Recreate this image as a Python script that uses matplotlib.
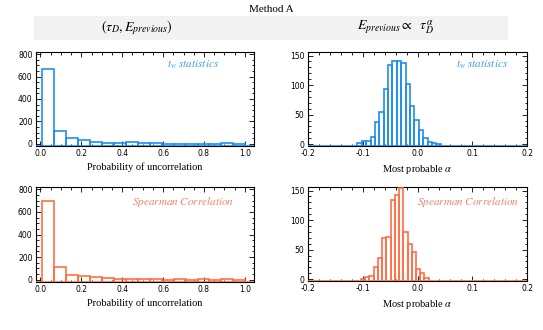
import numpy as np
import matplotlib
matplotlib.use("Agg")
import matplotlib.pyplot as plt
from matplotlib.ticker import MultipleLocator, AutoMinorLocator, FormatStrFormatter
from matplotlib.patches import Rectangle

plt.rcParams['axes.unicode_minus'] = False
plt.rcParams['mathtext.fontset'] = 'stix'

# ---------------- data ----------------
# Probability of uncorrelation histograms (left column)
prob_start = 0.008
prob_width = 0.0585
tw_prob_counts = [670, 110, 51, 33, 15, 8, 8, 15, 8, 3, 2, 2, 1, 1, 2, 6, 1]
sp_prob_counts = [700, 115, 40, 30, 22, 12, 8, 5, 5, 3, 2, 4, 2, 3, 2, 4, 1]

# Most probable alpha histograms (right column)
tw_alpha_start = -0.1097
tw_alpha_width = 0.0080
tw_alpha_counts = [2, 5, 5, 13, 38, 55, 94, 134, 141, 141, 138, 102, 64, 41, 24, 10, 4, 2, 1]
sp_alpha_start = -0.1035
sp_alpha_width = 0.00775
sp_alpha_counts = [1, 4, 6, 20, 36, 70, 72, 134, 143, 155, 80, 60, 46, 17, 10, 2]

title = "Method A"
col_titles = [r'$(\tau_D, E_{previous})$', r'$E_{previous} \propto\ \ \tau_D^{\alpha}$']
xlabels = ["Probability of uncorrelation", r"Most probable $\alpha$"]
labels = [r'$t_w\ statistics$', r'$Spearman\ Correlation$']

blue = '#1E8FEA'
orange = '#FF6E45'
blue_txt = '#3A9BE2'
orange_txt = '#F47F66'

W, H = 543, 330
fig = plt.figure(figsize=(W / 100, H / 100), dpi=100)

def frac(x0, y0, x1, y1):
    return [x0 / W, 1 - y1 / H, (x1 - x0) / W, (y1 - y0) / H]

# header
fig.patches.append(Rectangle((34 / W, 1 - 40 / H), (508 - 34) / W, (40 - 15.7) / H,
                             transform=fig.transFigure, facecolor='#f2f2f2',
                             edgecolor='none', zorder=0))
fig.text(271 / W, 1 - 10 / H, title, ha='center', va='center',
         fontsize=8, family='Liberation Serif')
fig.text(137 / W, 1 - 28 / H, col_titles[0], ha='center', va='center', fontsize=10)
fig.text(396 / W, 1 - 28 / H, col_titles[1], ha='center', va='center', fontsize=10)

panels = [
    dict(rect=frac(36, 52, 254, 146), counts=tw_prob_counts, start=prob_start, width=prob_width,
         color=blue, tcolor=blue_txt, label=labels[0], lpos=(193, 65),
         xlim=(-0.022, 1.045), ylim=(-20, 820), xmaj=0.2, ymaj=200, xl=xlabels[0]),
    dict(rect=frac(308, 52, 527, 146), counts=tw_alpha_counts, start=tw_alpha_start, width=tw_alpha_width,
         color=blue, tcolor=blue_txt, label=labels[0], lpos=(482, 65),
         xlim=(-0.2, 0.2), ylim=(-3, 156), xmaj=0.1, ymaj=50, xl=xlabels[1]),
    dict(rect=frac(36, 187, 254, 282), counts=sp_prob_counts, start=prob_start, width=prob_width,
         color=orange, tcolor=orange_txt, label=labels[1], lpos=(183, 202),
         xlim=(-0.022, 1.045), ylim=(-20, 820), xmaj=0.2, ymaj=200, xl=xlabels[0]),
    dict(rect=frac(308, 187, 527, 281), counts=sp_alpha_counts, start=sp_alpha_start, width=sp_alpha_width,
         color=orange, tcolor=orange_txt, label=labels[1], lpos=(468, 202),
         xlim=(-0.2, 0.2), ylim=(-3, 156), xmaj=0.1, ymaj=50, xl=xlabels[1]),
]

for p in panels:
    ax = fig.add_axes(p['rect'])
    counts = np.asarray(p['counts'], dtype=float)
    edges = p['start'] + p['width'] * np.arange(len(counts) + 1)
    base = p['ylim'][0]
    ax.bar(edges[:-1], counts - base, bottom=base, width=p['width'], align='edge',
           fill=False, edgecolor=p['color'], linewidth=1.2, zorder=3, clip_on=True)
    ax.plot([p['xlim'][0], edges[0]], [base, base], color=p['color'], lw=1.2, zorder=3)
    ax.plot([edges[-1], p['xlim'][1]], [base, base], color=p['color'], lw=1.2, zorder=3)
    ax.set_xlim(*p['xlim'])
    ax.set_ylim(*p['ylim'])
    ax.xaxis.set_major_locator(MultipleLocator(p['xmaj']))
    ax.yaxis.set_major_locator(MultipleLocator(p['ymaj']))
    ax.xaxis.set_minor_locator(AutoMinorLocator())
    ax.yaxis.set_minor_locator(AutoMinorLocator())
    ax.xaxis.set_major_formatter(FormatStrFormatter('%.1f'))
    ax.set_yticks([t for t in ax.get_yticks() if 0 <= t <= p['ylim'][1]])
    ax.yaxis.set_minor_locator(AutoMinorLocator())
    ax.tick_params(which='both', direction='in', top=True, right=True,
                   labelsize=5.5, width=0.6, colors='black', pad=2.5)
    ax.tick_params(which='major', length=3.5)
    ax.tick_params(which='minor', length=1.8)
    for s in ax.spines.values():
        s.set_linewidth(0.8)
    ax.set_xlabel(p['xl'], fontsize=7.5, family='Liberation Serif', labelpad=3)
    ax.text(p['lpos'][0] / W, 1 - p['lpos'][1] / H, p['label'], transform=fig.transFigure,
            ha='center', va='center', fontsize=8, color=p['tcolor'])

fig.savefig('out.png', dpi=100)
